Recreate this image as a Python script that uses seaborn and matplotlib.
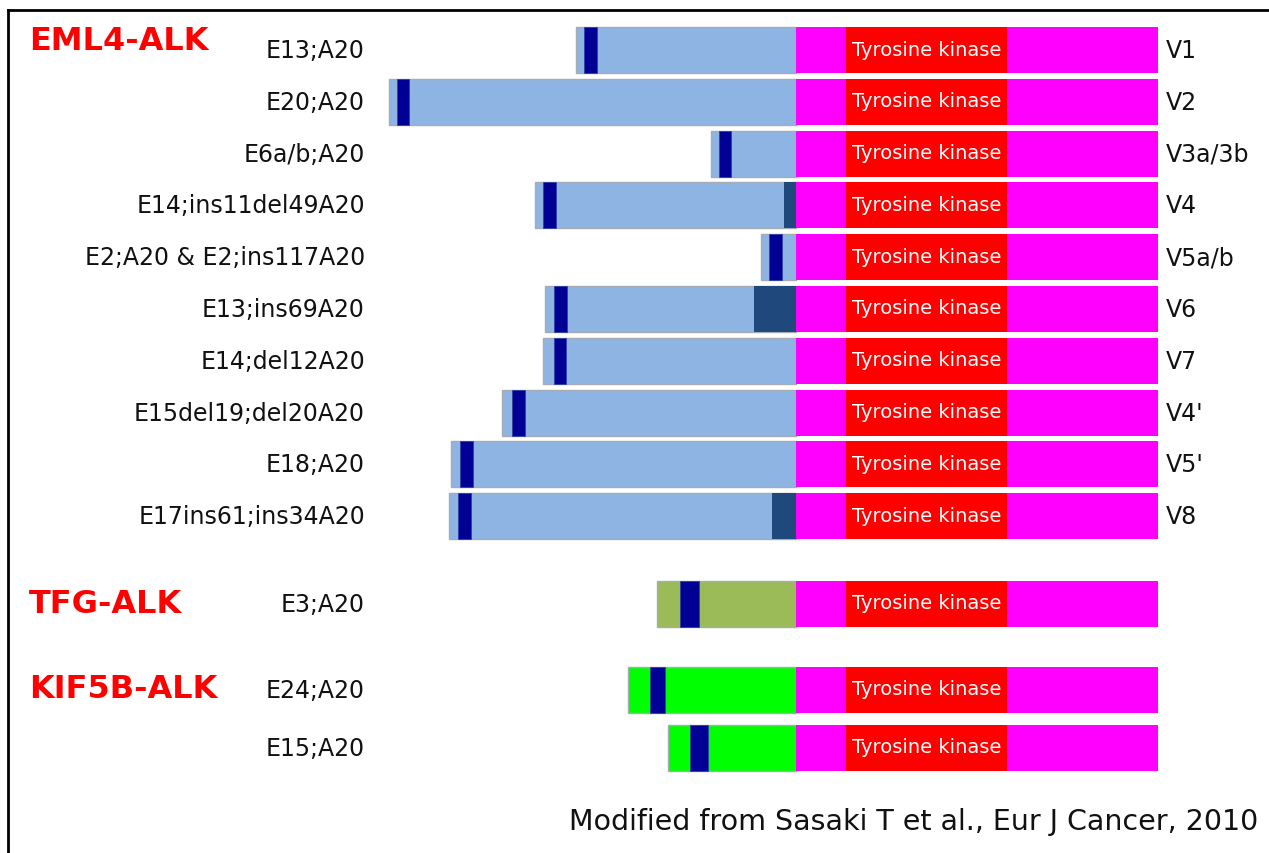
import numpy as np
import matplotlib.pyplot as plt
import seaborn as sns

# EML4-ALK variants (positions relative to the ALK exon 20 junction)
EML4_EXONS = ["E13;A20", "E20;A20", "E6a/b;A20", "E14;ins11del49A20",
              "E2;A20 & E2;ins117A20", "E13;ins69A20", "E14;del12A20",
              "E15del19;del20A20", "E18;A20", "E17ins61;ins34A20"]
EML4_NAMES = ["V1", "V2", "V3a/3b", "V4", "V5a/b", "V6", "V7", "V4'", "V5'", "V8"]
EML4_START = [-220, -407, -85, -261, -35, -251, -253, -294, -345, -347]
EML4_COIL_START = [-212, -399, -77, -253, -27, -242, -242, -284, -336, -338]
EML4_COIL_END = [-199, -387, -65, -240, -14, -229, -230, -271, -323, -325]
EML4_INSERT_START = [0, 0, 0, -12, 0, -42, 0, 0, 0, -24]

TFG_EXONS = ["E3;A20"]
TFG_START = [-139]
TFG_COIL = [(-116, -97)]

KIF5B_EXONS = ["E24;A20", "E15;A20"]
KIF5B_START = [-168, -128]
KIF5B_COIL = [(-146, -131), (-106, -88)]

# ALK part: juxtamembrane, tyrosine kinase, C-terminal
ALK_BOUNDS = [0, 50, 211, 362]

LIGHT = "#8eb4e3"
COIL = "#000094"
INSERT = "#1f497d"
MAGENTA = "#ff00ff"
KINASE = "#ff0000"
OLIVE = "#9bbb59"
GREEN = "#00ff00"
EDGE = "#a6acb4"

sns.set_theme(style="white")
plt.rcParams["font.family"] = ["DejaVu Sans"]

fig = plt.figure(figsize=(12.69, 8.54), dpi=100)
ax = fig.add_axes([8 / 1269, 0, 1 - 8 / 1269, (854 - 11) / 854])
ax.set_xlim(-788, 473)
ax.set_ylim(854, 11)
for s in ["right", "bottom"]:
    ax.spines[s].set_visible(False)
for s in ["left", "top"]:
    ax.spines[s].set_color("black")
    ax.spines[s].set_linewidth(2)
ax.set_xticks([])
ax.set_yticks([])

H = 46
eml4_y = 51 + 51.8 * np.arange(len(EML4_EXONS))
tfg_y = [605]
kif_y = [691, 749]
LABEL_FS = 17


def draw_alk(y):
    ax.barh(y, ALK_BOUNDS[1] - ALK_BOUNDS[0], left=ALK_BOUNDS[0], height=H, color=MAGENTA, lw=0)
    ax.barh(y, ALK_BOUNDS[2] - ALK_BOUNDS[1], left=ALK_BOUNDS[1], height=H, color=KINASE, lw=0)
    ax.barh(y, ALK_BOUNDS[3] - ALK_BOUNDS[2], left=ALK_BOUNDS[2], height=H, color=MAGENTA, lw=0)
    ax.text((ALK_BOUNDS[1] + ALK_BOUNDS[2]) / 2, y - 1, "Tyrosine kinase", color="white",
            fontsize=14, ha="center", va="center")


def draw_partner(y, start, c0, c1, color, ins=0):
    ax.barh(y, 0 - start, left=start, height=H, color=color, edgecolor=EDGE, lw=1)
    ax.barh(y, c1 - c0, left=c0, height=H, color=COIL, edgecolor="#3040a8", lw=0.6)
    if ins < 0:
        ax.barh(y, -ins, left=ins, height=H, color=INSERT, lw=0)


for i, y in enumerate(eml4_y):
    draw_partner(y, EML4_START[i], EML4_COIL_START[i], EML4_COIL_END[i], LIGHT,
                 EML4_INSERT_START[i])
    draw_alk(y)
    ax.text(-431, y, EML4_EXONS[i], fontsize=LABEL_FS, ha="right", va="center", color="#111111")
    ax.text(370, y, EML4_NAMES[i], fontsize=LABEL_FS, ha="left", va="center", color="#111111")

for i, y in enumerate(tfg_y):
    draw_partner(y, TFG_START[i], TFG_COIL[i][0], TFG_COIL[i][1], OLIVE)
    draw_alk(y)
    ax.text(-431, y, TFG_EXONS[i], fontsize=LABEL_FS, ha="right", va="center", color="#111111")

for i, y in enumerate(kif_y):
    draw_partner(y, KIF5B_START[i], KIF5B_COIL[i][0], KIF5B_COIL[i][1], GREEN)
    draw_alk(y)
    ax.text(-431, y, KIF5B_EXONS[i], fontsize=LABEL_FS, ha="right", va="center", color="#111111")

title_kw = dict(fontsize=23, fontweight="bold", color="#ff0000", ha="left", va="center")
ax.text(-767, 41, "EML4-ALK", **title_kw)
ax.text(-767, 605, "TFG-ALK", **title_kw)
ax.text(-767, 690, "KIF5B-ALK", **title_kw)

ax.text(462, 822, "Modified from Sasaki T et al., Eur J Cancer, 2010", fontsize=20.5,
        ha="right", va="center", color="#111111")

fig.savefig("out.png", dpi=100)
